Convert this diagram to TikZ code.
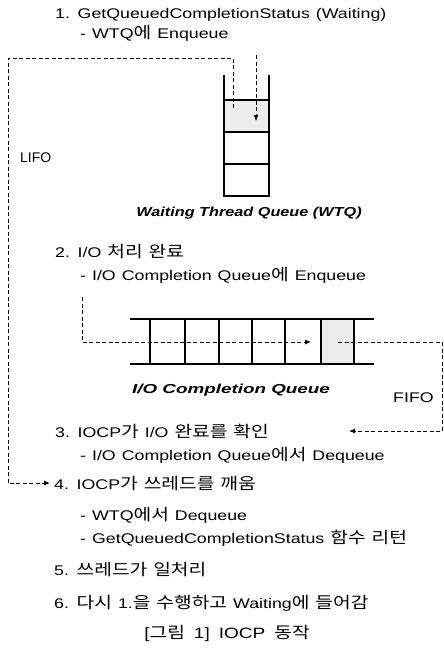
\documentclass[tikz,border=0pt]{standalone}
\usepackage{fontspec}
\setmainfont{Liberation Sans}[FakeStretch=1.27]
\newfontfamily\korf{Noto Sans CJK KR}[FakeStretch=1.2]
\newfontfamily\labfont{Liberation Sans}[FakeStretch=1.25]
\newfontfamily\labwide{Liberation Sans}[FakeStretch=1.45]
\newfontfamily\narrowf{Liberation Sans}
\newcommand\K[1]{{\korf\fontsize{16}{17}\selectfont #1}}
\newcommand\wsp{\spaceskip 6pt plus 1pt\relax}
\newcommand\wspc{\spaceskip 9pt plus 1pt\relax}
\usetikzlibrary{arrows.meta}
\tikzset{
  txt/.style={anchor=west, inner sep=0pt, font=\fontsize{14}{16}\selectfont\wsp},
  lab/.style={anchor=center, inner sep=0pt, font=\labfont\bfseries\itshape\fontsize{13}{15}\selectfont},
  labw/.style={anchor=center, inner sep=0pt, font=\labwide\bfseries\itshape\fontsize{13}{15}\selectfont},
  captxt/.style={anchor=center, inner sep=0pt, font=\fontsize{15}{17}\selectfont\wspc},
  dline/.style={line width=0.9pt, dash pattern=on 4pt off 2.5pt},
  arr/.style={dline, -{Latex[length=6pt,width=5pt]}},
  wall/.style={line width=1.2pt},
}
\begin{document}
\begin{tikzpicture}[x=1pt,y=-1pt]
\useasboundingbox (0,0) rectangle (444,651);
% texts
\node[txt] (t1) at (55,15) {1. GetQueuedCompletionStatus (Waiting)};
\node[txt] (t1b) at (80,33) {- WTQ\K{에} Enqueue};
\node[lab] (wtq) at (249,213) {Waiting Thread Queue (WTQ)};
\node[anchor=west, inner sep=0pt, font=\narrowf\fontsize{14}{16}\selectfont] (lifo) at (20,158) {LIFO};
\node[txt] (t2) at (55,252) {2. I/O \K{처리} \K{완료}};
\node[txt] (t2b) at (80,275) {- I/O Completion Queue\K{에} Enqueue};
\node[labw] (iocq) at (231,390) {I/O Completion Queue};
\node[txt] (fifo) at (393,398) {FIFO};
\node[txt] (t3) at (55,431) {3. IOCP\K{가} I/O \K{완료를} \K{확인}};
\node[txt] (t3b) at (80,455) {- I/O Completion Queue\K{에서} Dequeue};
\node[txt] (t4) at (54,483) {4. IOCP\K{가} \K{쓰레드를} \K{깨움}};
\node[txt] (t4b) at (80,515) {- WTQ\K{에서} Dequeue};
\node[txt] (t4c) at (80,538) {- GetQueuedCompletionStatus \K{함수} \K{리턴}};
\node[txt] (t5) at (54,570) {5. \K{쓰레드가} \K{일처리}};
\node[txt] (t6) at (54,603) {6. \K{다시} 1.\K{을} \K{수행하고} Waiting\K{에} \K{들어감}};
\node[captxt] (cap) at (227,633) {[\K{그림} 1] IOCP \K{동작}};
% WTQ stack
\fill[gray!15] (224,100) rectangle (269,132);
\draw[wall] (224,75) -- (224,196) -- (269,196) -- (269,75);
\draw[wall] (224,100) -- (269,100);
\draw[wall] (224,132) -- (269,132);
\draw[wall] (224,164) -- (269,164);
\coordinate (wtop) at (233,108);
\coordinate (win) at (256,55);
\coordinate (wend) at (256,121);
% IOCQ
\fill[gray!15] (321,319) rectangle (354,364);
\draw[wall] (130,319) -- (374,319);
\draw[wall] (130,364) -- (374,364);
\foreach \x in {150,185,219,252,285,321,354}{\draw[wall] (\x,319) -- (\x,364);}
\coordinate (qin) at (82,297);
\coordinate (qend) at (311,342);
\coordinate (qout) at (338,342);
\coordinate (fend) at (349,431);
% connectors
\draw[arr] (win) -- (wend);
\draw[arr, shorten >=4pt] (wtop) -- (233,58) -- (8,58) -- (8,483) -- (t4.west);
\draw[arr] (qin) -- (82,342) -- (qend);
\draw[arr] (qout) -- (442,342) -- (442,431) -- (fend);
\end{tikzpicture}
\end{document}
